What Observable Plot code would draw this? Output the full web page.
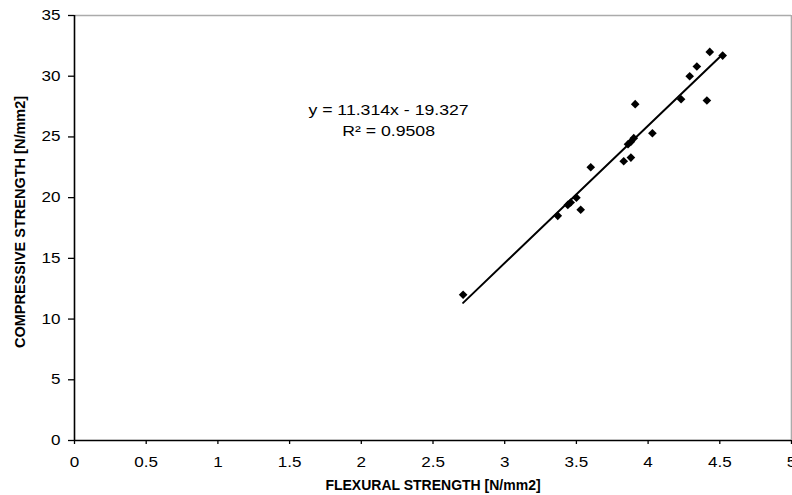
<!DOCTYPE html>
<html><head><meta charset="utf-8">
<script src="https://cdn.jsdelivr.net/npm/d3@7"></script>
<script src="https://cdn.jsdelivr.net/npm/@observablehq/plot@0.6"></script>
<style>
body{margin:0;background:#fff;}
#chart svg{display:block;}
</style>
</head><body><div id="chart"></div>
<script>
// ---- data ----
const flexural    = [2.71, 3.37, 3.44, 3.46, 3.50, 3.53, 3.60, 3.83, 3.88, 3.86, 3.88, 3.90, 3.91, 4.03, 4.23, 4.29, 4.34, 4.41, 4.43, 4.52];
const compressive = [12.0, 18.5, 19.4, 19.6, 20.0, 19.0, 22.5, 23.0, 23.3, 24.4, 24.6, 24.9, 27.7, 25.3, 28.1, 30.0, 30.8, 28.0, 32.0, 31.7];
const xTicks = [0, 0.5, 1, 1.5, 2, 2.5, 3, 3.5, 4, 4.5, 5];
const yTicks = [0, 5, 10, 15, 20, 25, 30, 35];
const slope = 11.314, intercept = -19.327;
const equationLines = ["y = 11.314x - 19.327", "R² = 0.9508"];
const equationY = [27.2, 25.45];
const equationX = 2.19;
const xTitle = "FLEXURAL STRENGTH [N/mm2]";
const yTitle = "COMPRESSIVE STRENGTH [N/mm2]";

const points = flexural.map((x, i) => ({x, y: compressive[i]}));
const xMin = d3.min(flexural), xMax = d3.max(flexural);
const trend = [xMin, xMax].map(x => ({x, y: slope * x + intercept}));
const eq = equationLines.map((t, i) => ({t, x: equationX, y: equationY[i]}));

const font = "'Liberation Sans', Arial, sans-serif";
const chart = Plot.plot({
  width: 792, height: 495,
  marginLeft: 74, marginRight: 1, marginTop: 15, marginBottom: 55,
  style: {fontFamily: font, fontSize: "14px", color: "#000", background: "#fff", overflow: "visible"},
  x: {domain: [0, 5]},
  y: {domain: [0, 35]},
  marks: [
    Plot.ruleY([35], {stroke: "#ababab", strokeWidth: 1.6}),
    Plot.ruleX([5], {stroke: "#ababab", strokeWidth: 1.6}),
    Plot.axisX({ticks: xTicks, tickSize: 4, tickPadding: 13, tickFormat: d => String(d), label: null, strokeWidth: 1.3}),
    Plot.axisY({ticks: yTicks, tickSize: 6, tickPadding: 8, tickFormat: d => String(d), label: null, strokeWidth: 1.3}),
    Plot.ruleX([0], {stroke: "#000", strokeWidth: 1.6}),
    Plot.ruleY([0], {stroke: "#000", strokeWidth: 1.6}),
    Plot.line(trend, {x: "x", y: "y", stroke: "#000", strokeWidth: 2}),
    Plot.dot(points, {x: "x", y: "y", symbol: "diamond2", r: 3.9, fill: "#000", stroke: "none"}),
    Plot.text(eq, {x: "x", y: "y", text: "t", fontSize: 14.5, fill: "#000"}),
    Plot.text([xTitle], {frameAnchor: "bottom", dy: 45, textAnchor: "middle", lineAnchor: "middle", fontWeight: "bold", fontSize: 14, fill: "#000"}),
    Plot.text([yTitle], {frameAnchor: "left", dx: -54, dy: -6, textAnchor: "middle", lineAnchor: "middle", rotate: -90, fontWeight: "bold", fontSize: 14.5, fill: "#000"})
  ]
});
document.getElementById("chart").appendChild(chart);

// the reference's plain labels are horizontally widened: wrap each in a group
// that keeps its position and stretches it about its anchor point
const S = 1.22;
const NS = "http://www.w3.org/2000/svg";
Array.from(chart.querySelectorAll("text")).filter(t => {
  const p = t.parentNode && t.parentNode.getAttribute && t.parentNode.getAttribute("aria-label");
  return p === "x-axis tick label" || p === "y-axis tick label" || equationLines.includes(t.textContent);
}).forEach(t => {
  let tr = t.getAttribute("transform") || "";
  const x = t.getAttribute("x");
  if (x != null && !isNaN(+x)) { tr += ` translate(${+x},0)`; t.removeAttribute("x"); }
  const g = document.createElementNS(NS, "g");
  g.setAttribute("transform", `${tr} scale(${S},1)`);
  t.removeAttribute("transform");
  t.parentNode.insertBefore(g, t);
  g.appendChild(t);
});
</script>
</body></html>
